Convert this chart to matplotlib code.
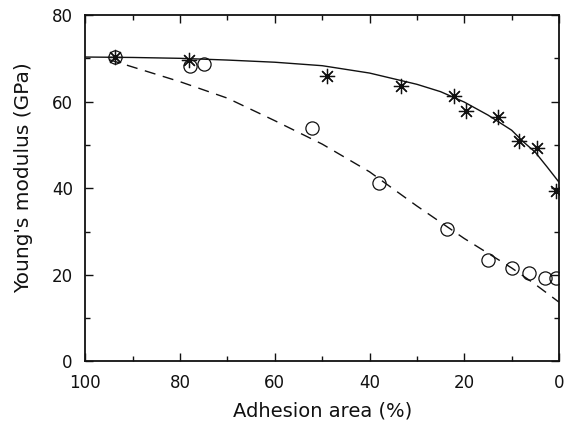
import matplotlib
matplotlib.use("Agg")
import matplotlib.pyplot as plt
from matplotlib.ticker import MultipleLocator

plt.rcParams['font.family'] = ['DejaVu Sans']

# Young's modulus vs adhesion area, two specimen sets
area_star = [93.7, 78.1, 49.0, 33.3, 22.1, 19.6, 12.8, 8.4, 4.7, 0.6]
modulus_star = [70.3, 69.6, 65.9, 63.5, 61.2, 57.9, 56.4, 50.9, 49.4, 39.4]

area_circle = [93.7, 78.0, 75.0, 52.2, 38.1, 23.7, 14.9, 10.0, 6.3, 3.0, 0.6]
modulus_circle = [70.3, 68.2, 68.7, 53.9, 41.2, 30.6, 23.4, 21.5, 20.4, 19.2, 19.2]

# fitted curves
fit_area_solid = [100, 90, 80, 70, 60, 50, 40, 30, 25, 20, 15, 10, 7.5, 5, 2.5, 0]
fit_mod_solid = [70.3, 70.2, 70.0, 69.6, 69.1, 68.3, 66.6, 64.0, 62.3, 59.9,
                 56.9, 53.4, 50.7, 48.3, 44.9, 41.4]

fit_area_dash = [95, 90, 80, 70, 60, 50, 40, 30, 20, 10, 5, 0]
fit_mod_dash = [69.7, 68.0, 64.6, 60.8, 55.6, 50.2, 43.8, 35.9, 28.4, 21.6, 17.8, 13.7]

fig = plt.figure(figsize=(5.65, 4.23), dpi=100)
ax = fig.add_axes([0.151, 0.1454, 0.8384, 0.8191])

ax.plot(fit_area_solid, fit_mod_solid, color='#111111', lw=1.0)
ax.plot(fit_area_dash, fit_mod_dash, color='#111111', lw=1.0, ls=(0, (8, 5.5)))

ax.plot(area_star, modulus_star, ls='none', marker=(8, 2, 0), ms=11,
        mec='#111111', mew=0.9)
ax.plot(area_circle, modulus_circle, ls='none', marker='o', ms=9.5,
        mfc='none', mec='#111111', mew=0.9)

ax.set_xlim(100, 0)
ax.set_ylim(0, 80)
ax.xaxis.set_major_locator(MultipleLocator(20))
ax.xaxis.set_minor_locator(MultipleLocator(10))
ax.yaxis.set_major_locator(MultipleLocator(20))
ax.yaxis.set_minor_locator(MultipleLocator(10))
ax.tick_params(which='both', direction='in', top=True, right=True,
               width=1.0, colors='#111111', labelsize=12, pad=9)
ax.tick_params(which='major', length=6)
ax.tick_params(which='minor', length=3.5)
for sp in ax.spines.values():
    sp.set_linewidth(1.3)
    sp.set_color('#111111')

ax.set_xlabel('Adhesion area (%)', fontsize=14, color='#111111', labelpad=7)
ax.set_ylabel("Young's modulus (GPa)", fontsize=14.5, color='#111111')
ax.yaxis.set_label_coords(-0.11, 0.53)

fig.savefig('out.png', dpi=100)
